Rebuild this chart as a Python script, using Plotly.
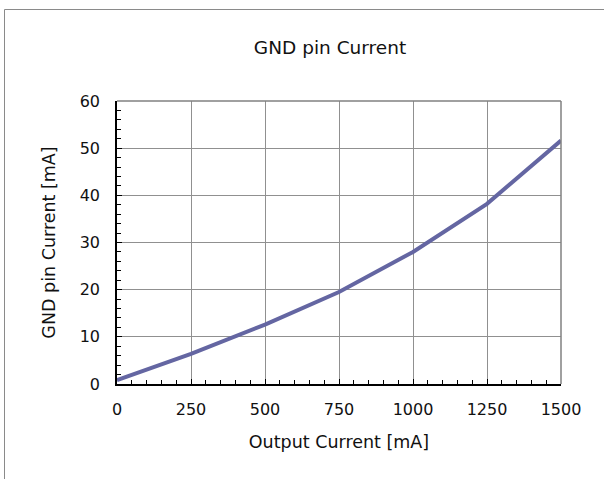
import plotly.graph_objects as go

output_current = [0, 100, 250, 500, 750, 1000, 1250, 1500]
gnd_current = [0.8, 3.0, 6.4, 12.6, 19.5, 28.0, 38.2, 51.6]

x_ticks = [0, 250, 500, 750, 1000, 1250, 1500]
y_ticks = [0, 10, 20, 30, 40, 50, 60]

FONT = "DejaVu Sans"

fig = go.Figure()
fig.add_trace(go.Scatter(
    x=output_current, y=gnd_current, mode="lines",
    line=dict(color="#6466a2", width=4), showlegend=False,
))

L, R, T, B = 117, 43, 101, 95
W, H = 604, 479
pw, ph = W - L - R, H - T - B

def px(xp):
    return (xp - L) / pw

def py(yp):
    return (H - B - yp) / ph

fig.update_layout(
    width=W, height=H,
    margin=dict(l=L, r=R, t=T, b=B),
    paper_bgcolor="white", plot_bgcolor="white",
    font=dict(family=FONT, size=16, color="#111"),
    title=dict(text="GND pin Current", x=px(330), xref="paper", xanchor="center",
               y=1 - 48 / H, yanchor="middle", font=dict(size=18.5, family=FONT, color="#111")),
    xaxis=dict(
        range=[0, 1500], tickvals=x_ticks, ticks="inside", ticklen=5, tickcolor="black",
        showgrid=True, gridcolor="#909090", gridwidth=1.3,
        showline=True, linecolor="black", linewidth=1.5,
        minor=dict(ticks="inside", ticklen=4, dtick=50, tickcolor="black", showgrid=False),
        title=dict(text="Output Current [mA]", standoff=18, font=dict(size=17.5)),
        zeroline=False, tickfont=dict(size=16), ticklabelstandoff=10,
    ),
    yaxis=dict(
        range=[0, 60], tickvals=y_ticks, ticks="inside", ticklen=5, tickcolor="black",
        showgrid=True, gridcolor="#909090", gridwidth=1.3,
        showline=True, linecolor="black", linewidth=1.5,
        minor=dict(ticks="inside", ticklen=4, dtick=2, tickcolor="black", showgrid=False),
        title=dict(text="GND pin Current [mA]", standoff=20, font=dict(size=17.5)),
        zeroline=False, tickfont=dict(size=16), ticklabelstandoff=12,
    ),
)

# plot-area frame (top/right gray)
fig.add_shape(type="line", xref="paper", yref="paper", x0=0, x1=1, y0=1, y1=1,
              line=dict(color="#808080", width=1.5))
fig.add_shape(type="line", xref="paper", yref="paper", x0=1, x1=1, y0=0, y1=1,
              line=dict(color="#808080", width=1.5))
# outer chart border (partially visible)
fig.add_shape(type="rect", xref="paper", yref="paper",
              x0=px(4.5), x1=px(700), y0=py(700), y1=py(9.5),
              line=dict(color="#8a8a8a", width=1), layer="below")

fig.write_html("out.html")
